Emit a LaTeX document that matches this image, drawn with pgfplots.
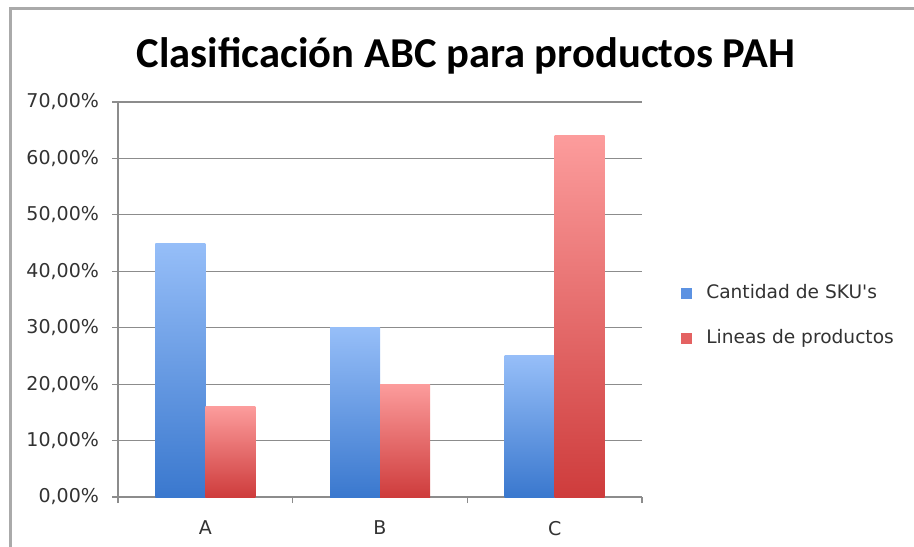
\documentclass[border=0pt]{standalone}
\usepackage{fontspec}
\setmainfont{DejaVu Sans}[Ligatures=TeXOff]
\newfontfamily\titlefont{Carlito}
\usepackage{pgfplots}
\pgfplotsset{compat=1.18}

\definecolor{blueTop}{RGB}{150,190,248}
\definecolor{blueBot}{RGB}{58,120,206}
\definecolor{redTop}{RGB}{252,156,156}
\definecolor{redBot}{RGB}{206,60,60}
\definecolor{legBlue}{RGB}{92,146,226}
\definecolor{legRed}{RGB}{228,98,98}
\definecolor{gridgray}{RGB}{140,140,140}
\definecolor{framegray}{RGB}{170,170,170}
\definecolor{txt}{RGB}{50,50,50}

% one shaded bar per plot, so that every bar gets its own gradient
\pgfplotsset{
  skubar/.style={draw=none, top color=blueTop, bottom color=blueBot,
    bar shift=-12.5pt, forget plot},
  lineabar/.style={draw=none, top color=redTop, bottom color=redBot,
    bar shift=12.5pt, forget plot},
}

\begin{document}
\begin{tikzpicture}
\begin{scope}[x=0.5pt,y=-0.5pt]
  \path[use as bounding box] (0,0) rectangle (914,546);
  \draw[framegray, line width=1.5pt] (10,560) -- (10,8) -- (920,8);
  \node[font=\titlefont\bfseries\fontsize{21.3}{24}\selectfont, text=black]
    at (466,56) {Clasificación ABC para productos PAH};
\end{scope}

\begin{axis}[
  at={(59pt,-248.5pt)}, anchor=south west,
  scale only axis, width=262pt, height=197.5pt,
  xmin=-0.5, xmax=2.5, ymin=0, ymax=70,
  ybar=0pt, bar width=25pt,
  axis x line*=bottom, axis y line*=left,
  axis line style={gridgray, line width=0.7pt, -},
  xtick={0,1,2}, xticklabels={A,B,C},
  major x tick style={draw=none},
  minor xtick={-0.5,0.5,1.5,2.5},
  ytick={0,10,...,70},
  yticklabels={{0,00\%},{10,00\%},{20,00\%},{30,00\%},{40,00\%},{50,00\%},{60,00\%},{70,00\%}},
  ymajorgrids, grid style={gridgray, line width=0.6pt},
  tick align=outside, major tick length=3pt, minor tick length=3pt,
  every tick/.style={gridgray, line width=0.6pt},
  tick label style={font=\fontsize{9.5}{10}\selectfont, text=txt},
  xticklabel style={yshift=-5.5pt},
  yticklabel style={xshift=-3pt},
  legend style={at={(1.062,0.4595)}, anchor=west, draw=none, fill=none,
    font=\fontsize{9.3}{10}\selectfont, text=txt, row sep=10pt,
    cells={anchor=west}},
]
% Cantidad de SKU's
\addplot[skubar] coordinates {(0,45)};
\addplot[skubar] coordinates {(1,30)};
\addplot[skubar] coordinates {(2,25)};
% Lineas de productos
\addplot[lineabar] coordinates {(0,16)};
\addplot[lineabar] coordinates {(1,20)};
\addplot[lineabar] coordinates {(2,64)};

\addlegendimage{legend image code/.code={\path[draw=none] (0pt,0pt) -- (10.5pt,0pt);
  \fill[legBlue] (0pt,-2.5pt) rectangle (5pt,2.5pt);}}
\addlegendentry{Cantidad de SKU's}
\addlegendimage{legend image code/.code={\path[draw=none] (0pt,0pt) -- (10.5pt,0pt);
  \fill[legRed] (0pt,-2.5pt) rectangle (5pt,2.5pt);}}
\addlegendentry{Lineas de productos}
\end{axis}
\end{tikzpicture}
\end{document}
